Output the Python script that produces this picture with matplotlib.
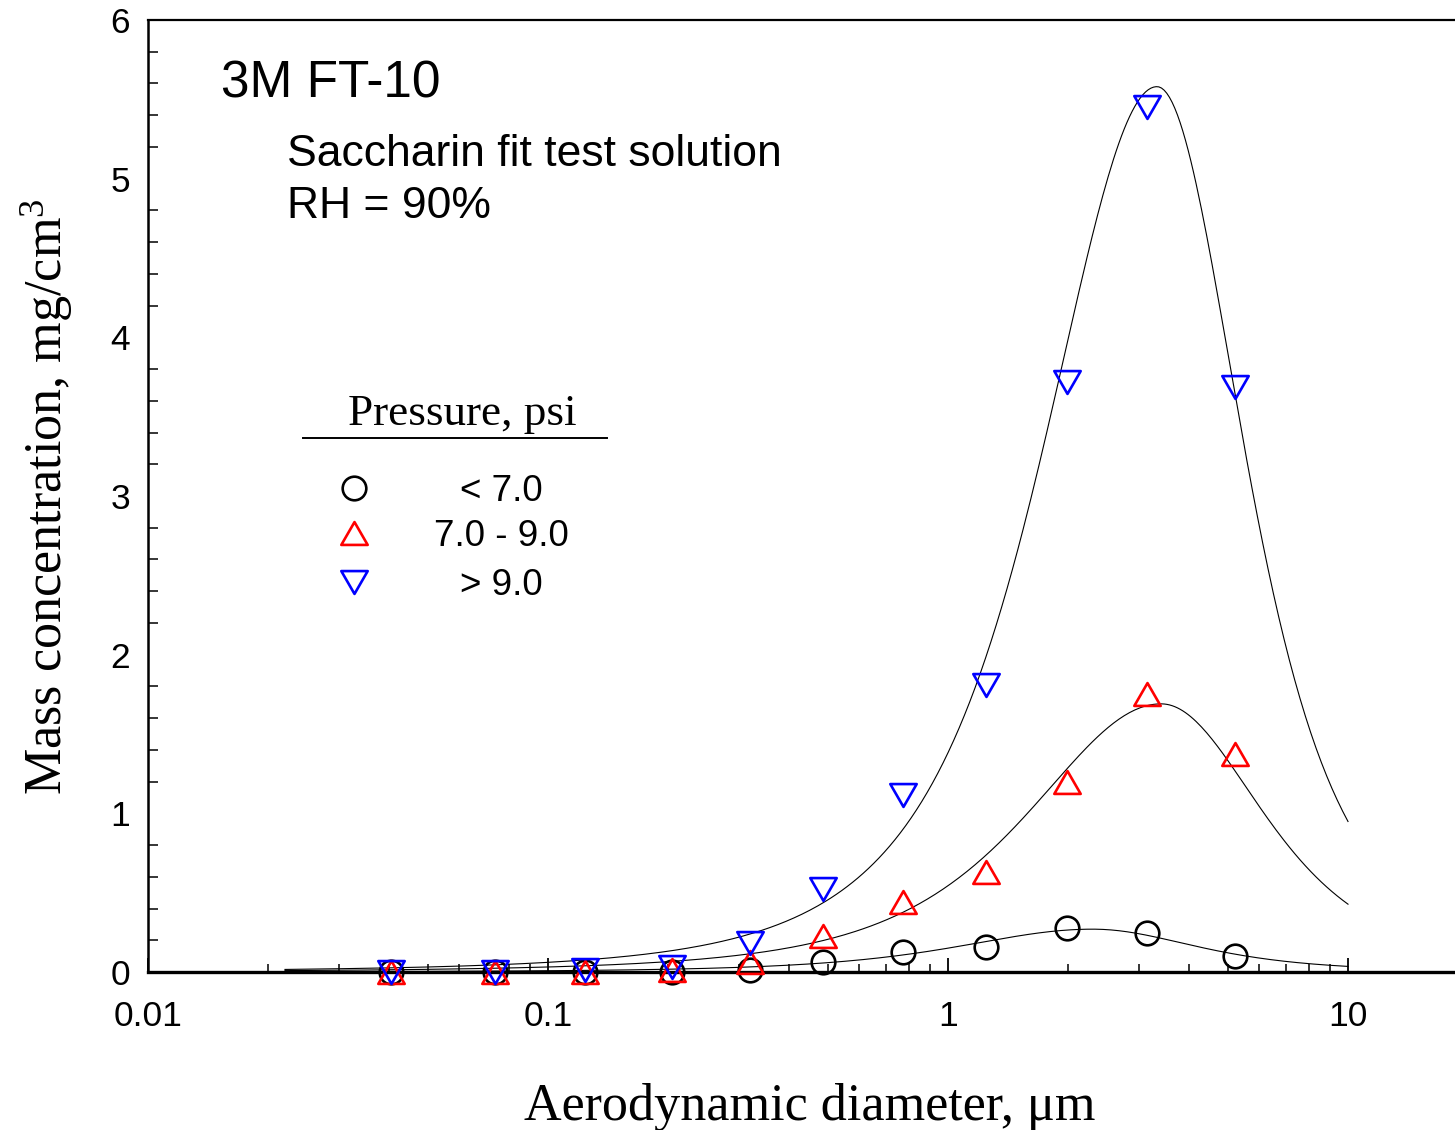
import numpy as np
import matplotlib
matplotlib.use('Agg')
import matplotlib.pyplot as plt
from matplotlib.lines import Line2D
from matplotlib.path import Path

# aerodynamic diameter of each impactor stage (um)
diameter = [0.0405, 0.0737, 0.124, 0.204, 0.32, 0.487, 0.772, 1.245, 1.98, 3.14, 5.22]

# mass concentration (mg/cm3) per pressure group
mass_low = [0.0, 0.0, 0.0, 0.0, 0.015, 0.06, 0.125, 0.16, 0.28, 0.245, 0.10]
mass_mid = [0.0, 0.0, 0.0, 0.01, 0.06, 0.23, 0.44, 0.63, 1.20, 1.75, 1.375]
mass_high = [0.0, 0.0, 0.01, 0.03, 0.18, 0.52, 1.115, 1.81, 3.72, 5.45, 3.69]

labels = ['< 7.0', '7.0 - 9.0', '> 9.0']
colors = ['black', 'red', 'blue']

# fitted peak curves: height, peak diameter,
# left / right width in decades
fit_peak = [0.27, 1.69, 5.58]
fit_center = [2.30, 3.41, 3.33]
fit_wleft = [0.31, 0.305, 0.26]
fit_wright = [0.24, 0.235, 0.20]
fit_range = [0.022, 10.0]


def peakCurve(d, height, center, wl, wr):
	"""asymmetric Pearson VII peak in log10(d)"""
	u = np.log10(d) - np.log10(center)
	w = np.where(u < 0, wl, wr)
	return height * (1.0 + u**2 / (4.0 * w**2))**-2


plt.rcParams['font.family'] = 'Liberation Sans'
plt.rcParams['mathtext.default'] = 'regular'

W, H = 1455, 1130
fig = plt.figure(figsize=(W/100, H/100), dpi=100)
ax = fig.add_axes([148/W, 1-972/H, 1-148/W, (972-20)/H])

# fit lines
xFit = np.logspace(np.log10(fit_range[0]), np.log10(fit_range[1]), 400)
for i in range(3):
	yFit = peakCurve(xFit, fit_peak[i], fit_center[i], fit_wleft[i], fit_wright[i])
	ax.plot(xFit, yFit, '-', c='k', linewidth=0.8, zorder=2)

# markers (equilateral triangles, closed outlines)
triUp = Path([(-1, -0.866), (1, -0.866), (0, 0.866), (-1, -0.866)], closed=True)
triDown = Path([(-1, 0.866), (1, 0.866), (0, -0.866), (-1, 0.866)], closed=True)
markers = ['o', triUp, triDown]
sizes = [17, 19, 19]
allMass = [mass_low, mass_mid, mass_high]
for i in range(3):
	ax.plot(diameter, allMass[i], linestyle='none', marker=markers[i], ms=sizes[i],
		mfc='none', mec=colors[i], mew=1.9, zorder=3+i, clip_on=False)

ax.set_xscale('log')
ax.set_xlim(0.01, 10**((W-148)/400 - 2))
ax.set_ylim(0, 6)
ax.set_yticks(range(0, 7))
ax.set_yticks(np.arange(0, 6.01, 0.2), minor=True)
ax.set_xticks([0.01, 0.1, 1, 10])
ax.set_xticklabels(['0.01', '0.1', '1', '10'])

ax.spines['right'].set_visible(False)
ax.spines['left'].set_linewidth(1.8)
ax.spines['top'].set_linewidth(1.6)
ax.spines['bottom'].set_linewidth(2.4)

ax.tick_params(axis='y', which='major', direction='in', length=0, pad=13, labelsize=25.5)
ax.tick_params(axis='y', which='minor', direction='in', length=7.5, width=1.1)
ax.tick_params(axis='x', which='major', direction='in', length=10, width=1.3, pad=20, labelsize=25.5)
ax.tick_params(axis='x', which='minor', direction='in', length=5.5, width=1.1, labelbottom=False)

# axis labels
fig.text(810/W, 1-1120/H, 'Aerodynamic diameter, \u03bcm', ha='center', va='baseline',
	family='Liberation Serif', fontsize=37.5)
fig.text(47/W, 1-497/H, 'Mass concentration, mg/cm$^3$', ha='center', va='center',
	rotation=90, family='Liberation Serif', fontsize=37.5)

# annotations
fig.text(221/W, 1-97/H, '3M FT-10', fontsize=37, va='baseline')
fig.text(287/W, 1-166/H, 'Saccharin fit test solution', fontsize=32, va='baseline')
fig.text(287/W, 1-218/H, 'RH = 90%', fontsize=32, va='baseline')

# legend drawn by hand
fig.text(462/W, 1-425/H, 'Pressure, psi', ha='center', va='baseline',
	family='Liberation Serif', fontsize=32.5)
fig.add_artist(Line2D([303/W, 607/W], [1-438/H, 1-438/H], color='k', linewidth=1.4))
legY = [488, 533, 582]
for i in range(3):
	fig.add_artist(Line2D([354/W], [1-legY[i]/H], linestyle='none', marker=markers[i],
		ms=sizes[i], mfc='none', mec=colors[i], mew=1.9))
	fig.text(501/W, 1-(legY[i]+13)/H, labels[i], ha='center', va='baseline', fontsize=26.5)

fig.savefig('out.png', dpi=100)
